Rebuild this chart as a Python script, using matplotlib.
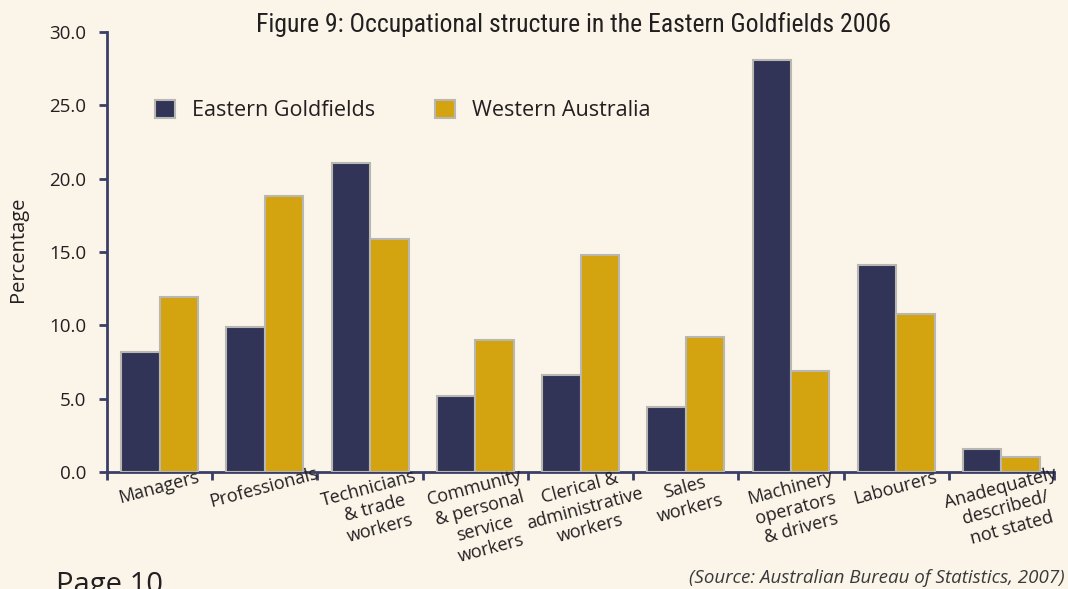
import matplotlib
matplotlib.use("Agg")
import matplotlib.pyplot as plt
import numpy as np
from matplotlib.patches import Patch

categories = ["Managers", "Professionals", "Technicians\n& trade\nworkers",
              "Community\n& personal\nservice\nworkers", "Clerical &\nadministrative\nworkers",
              "Sales\nworkers", "Machinery\noperators\n& drivers", "Labourers",
              "Anadequately\ndescribed/\nnot stated"]
eastern_goldfields = [8.2, 9.9, 21.1, 5.2, 6.6, 4.4, 28.1, 14.1, 1.6]
western_australia = [11.9, 18.8, 15.9, 9.0, 14.8, 9.2, 6.9, 10.8, 1.0]
yticks = [0, 5, 10, 15, 20, 25, 30]

BG = "#faf4e9"
NAVY = "#313456"
GOLD = "#d4a310"
AXC = "#3b3f66"
EDGE = "#b9b7b2"
TXT = "#231f20"
FONT = ["Open Sans", "DejaVu Sans"]
NARROW = ["Liberation Sans Narrow", "Roboto Condensed", "Liberation Sans", "DejaVu Sans"]

plt.rcParams['font.family'] = FONT

fig = plt.figure(figsize=(10.68, 5.89), dpi=100, facecolor=BG)
ax = fig.add_axes([0.1002, 0.1986, 0.8868, 0.7471], facecolor=BG)

x = np.arange(len(categories)) + 0.5
w = 0.365
ax.bar(x - w / 2, eastern_goldfields, w, color=NAVY, edgecolor=EDGE, linewidth=1.5, label="Eastern Goldfields", zorder=3)
ax.bar(x + w / 2, western_australia, w, color=GOLD, edgecolor=EDGE, linewidth=1.5, label="Western Australia", zorder=3)

ax.set_xlim(0, len(categories))
ax.set_ylim(0, 30)
ax.set_yticks(yticks)
ax.set_yticklabels([f"{v:.1f}" for v in yticks], fontsize=13.5, color=TXT)
ax.set_xticks(np.arange(len(categories) + 1))
ax.set_xticklabels([])
ax.tick_params(axis='both', direction='out', color=AXC, width=2, length=6)
ax.tick_params(axis='y', pad=9)
for s in ['top', 'right']:
    ax.spines[s].set_visible(False)
for s in ['left', 'bottom']:
    ax.spines[s].set_color(AXC)
    ax.spines[s].set_linewidth(2)

for xi, lab in zip(x, categories):
    ax.text(xi - 0.03, -0.5, lab, ha='center', va='top', rotation=15,
            rotation_mode='anchor', fontsize=13, color=TXT, linespacing=1.2,
            transform=ax.transData, clip_on=False)

fig.text(0.017, 0.576, "Percentage", rotation=90, ha='center', va='center',
         fontsize=14.5, color=TXT)

handles = [Patch(facecolor=NAVY, edgecolor=EDGE, linewidth=1.5, label="Eastern Goldfields"),
           Patch(facecolor=GOLD, edgecolor=EDGE, linewidth=1.5, label="Western Australia")]
ax.legend(handles=handles, loc='upper left', bbox_to_anchor=(0.03, 0.89), ncol=2,
          frameon=False, fontsize=15.5, handlelength=0.95, handleheight=0.95,
          columnspacing=2.75, handletextpad=0.8, labelcolor=TXT)

fig.text(0.537, 0.958, "Figure 9: Occupational structure in the Eastern Goldfields 2006",
         ha='center', va='center', fontsize=18.5, color=TXT, family=NARROW)
fig.text(0.997, 0.019, "(Source: Australian Bureau of Statistics, 2007)", ha='right',
         va='center', fontsize=13.5, style='italic', color="#3a3a3a")
fig.text(0.052, 0.03, "Page 10", ha='left', va='top', fontsize=21, color=TXT)

fig.savefig("out.png", dpi=100, facecolor=BG)
